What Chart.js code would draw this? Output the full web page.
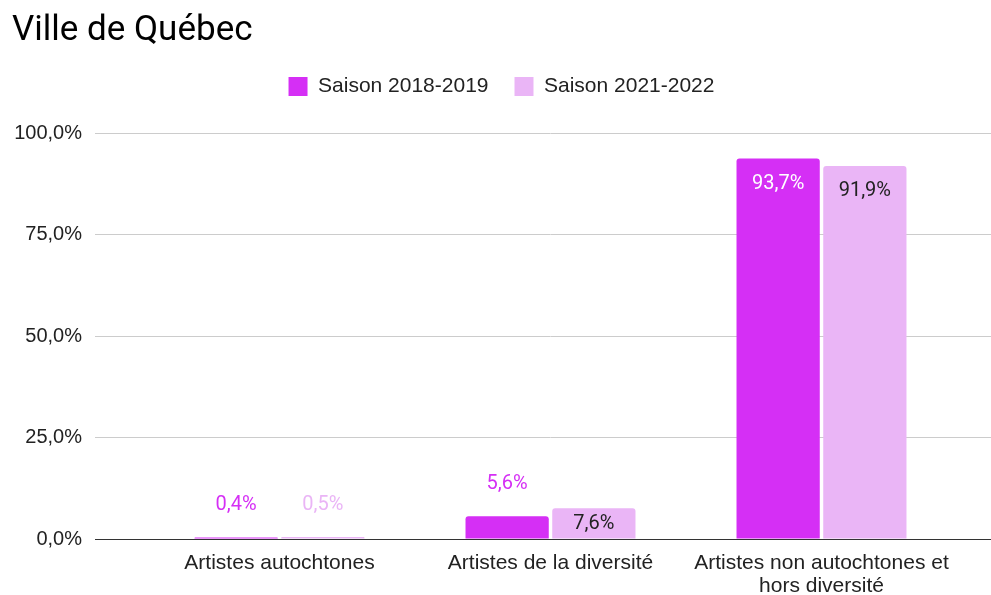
<!DOCTYPE html>
<html>
<head>
<meta charset="utf-8">
<script src="https://cdn.jsdelivr.net/npm/chart.js@4/dist/chart.umd.min.js"></script>
<style>
html,body{margin:0;padding:0;background:#fff;}
#wrap{width:991px;height:595px;position:relative;}
</style>
</head>
<body>
<div id="wrap"><canvas id="c" width="991" height="595"></canvas></div>
<script>
const titleText = "Ville de Québec";
const categories = ["Artistes autochtones", "Artistes de la diversité", ["Artistes non autochtones et", "hors diversité"]];
const seriesNames = ["Saison 2018-2019", "Saison 2021-2022"];
const season2018 = [0.4, 5.6, 93.7];
const season2021 = [0.5, 7.6, 91.9];
const yTicks = [0, 25, 50, 75, 100];

const colDark = "#d52ff5";
const colLight = "#eab5f6";

const fmt = v => v.toFixed(1).replace('.', ',') + '%';

const legendSpacer = {
  id: 'legendSpacer',
  beforeLayout(chart) {
    const lg = chart.legend;
    if (lg && !lg._spaced) {
      const fit = lg.fit;
      lg.fit = function () { fit.call(this); this.height += 26; };
      lg._spaced = true;
    }
  }
};

const barLabels = {
  id: 'barLabels',
  afterDatasetsDraw(chart) {
    const ctx = chart.ctx;
    ctx.save();
    ctx.font = '20px Roboto';
    ctx.textAlign = 'center';
    ctx.textBaseline = 'middle';
    chart.data.datasets.forEach((ds, di) => {
      const meta = chart.getDatasetMeta(di);
      meta.data.forEach((bar, i) => {
        const v = ds.data[i];
        let y, color;
        if (v >= 7) {
          y = Math.min(bar.y + 25, (bar.y + bar.base) / 2 + 1);
          color = di === 0 ? '#ffffff' : '#222222';
        } else {
          y = bar.y - 32;
          color = ds.backgroundColor;
        }
        ctx.fillStyle = color;
        ctx.fillText(fmt(v), bar.x, y);
      });
    });
    ctx.restore();
  }
};

const gridCol = ctx => (ctx.tick && ctx.tick.value === 0) ? '#333333' : '#cccccc';

new Chart(document.getElementById('c'), {
  type: 'bar',
  data: {
    labels: categories,
    datasets: [
      { label: seriesNames[0], data: season2018, backgroundColor: colDark, borderRadius: 3, borderSkipped: 'start',
        categoryPercentage: 0.64, barPercentage: 0.96 },
      { label: seriesNames[1], data: season2021, backgroundColor: colLight, borderRadius: 3, borderSkipped: 'start',
        categoryPercentage: 0.64, barPercentage: 0.96 }
    ]
  },
  options: {
    responsive: false,
    animation: false,
    devicePixelRatio: 1,
    layout: { padding: { left: 12, right: 0, top: 0, bottom: 0 } },
    plugins: {
      title: {
        display: true, text: titleText, align: 'start', color: '#000000',
        font: { family: 'Roboto', size: 35, weight: 'normal', lineHeight: 1 },
        padding: { top: 14, bottom: 1 }
      },
      legend: {
        display: true, position: 'top', align: 'center',
        labels: {
          boxWidth: 19, boxHeight: 19, padding: 26, color: '#222222',
          font: { family: 'Liberation Sans', size: 21 }
        }
      },
      tooltip: { enabled: false }
    },
    scales: {
      x: {
        grid: { display: false, drawTicks: false },
        border: { display: true, color: '#333333', width: 1 },
        ticks: { color: '#222222', padding: 13, maxRotation: 0, autoSkip: false,
          font: { family: 'Liberation Sans', size: 21, lineHeight: 1.1 } },
        afterFit(s) { s.height = 56; }
      },
      y: {
        min: 0, max: 100,
        afterBuildTicks(s) { s.ticks = yTicks.map(v => ({ value: v })); },
        grid: { color: gridCol, tickColor: gridCol, drawTicks: true, tickLength: 49 },
        border: { display: false },
        ticks: { color: '#222222', padding: 13, callback: v => fmt(v),
          font: { family: 'Liberation Sans', size: 20 } },
        afterFit(s) { s.width = 132; }
      },
      y2: {
        position: 'right', min: 0, max: 100,
        afterBuildTicks(s) { s.ticks = yTicks.map(v => ({ value: v })); },
        grid: { color: gridCol, tickColor: gridCol, drawOnChartArea: false, drawTicks: true, tickLength: 34 },
        border: { display: false },
        ticks: { display: false },
        afterFit(s) { s.width = 34; }
      }
    }
  },
  plugins: [legendSpacer, barLabels]
});
</script>
</body>
</html>
